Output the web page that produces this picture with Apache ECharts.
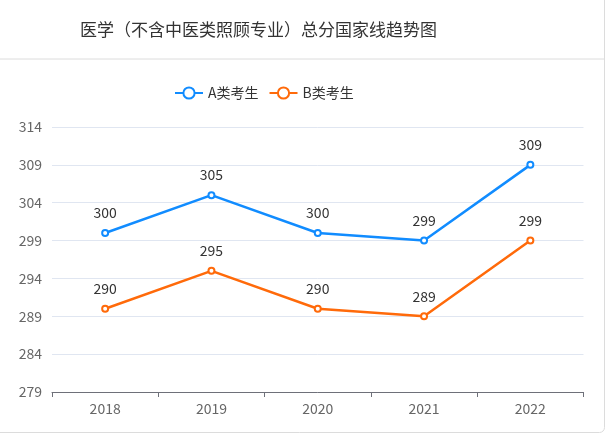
<!DOCTYPE html>
<html><head><meta charset="utf-8">
<script src="https://cdn.jsdelivr.net/npm/echarts@6/dist/echarts.min.js"></script>
<style>html,body{margin:0;padding:0;background:#fff;}#c{width:609px;height:435px;}</style>
</head><body><div id="c"></div>
<script>
const years = ['2018','2019','2020','2021','2022'];
const seriesA = [300, 305, 300, 299, 309];
const seriesB = [290, 295, 290, 289, 299];
const yTicks = [279, 284, 289, 294, 299, 304, 309, 314];
const chart = echarts.init(document.getElementById('c'));
const font = '"Noto Sans CJK SC", "Noto Sans", sans-serif';
chart.setOption({
  animation: false,
  backgroundColor: '#fff',
  textStyle: {fontFamily: font},
  title: {text: '医学（不含中医类照顾专业）总分国家线趋势图', left: 75, top: 16,
    textStyle: {fontSize: 17, fontWeight: 'normal', color: '#333', fontFamily: font}},
  graphic: [
    {type: 'line', shape: {x1: 0, y1: 59, x2: 604, y2: 59}, style: {stroke: '#dcdcdc', lineWidth: 1}},
    {type: 'rect', shape: {x: -6, y: -6, width: 610.5, height: 438.5, r: 5}, style: {fill: 'none', stroke: '#dcdcdc', lineWidth: 1}}
  ],
  legend: {top: 81, left: 169, itemWidth: 28, itemHeight: 14, itemGap: 10,
    textStyle: {fontSize: 14, color: '#333', fontFamily: font}},
  grid: {left: 52, right: 25.5, top: 127, bottom: 43, containLabel: false},
  xAxis: {type: 'category', data: years, boundaryGap: true,
    axisLine: {lineStyle: {color: '#6E7079'}},
    axisTick: {show: true, length: 5, lineStyle: {color: '#6E7079'}},
    axisLabel: {fontSize: 14, color: '#666', margin: 10, fontFamily: font}},
  yAxis: {type: 'value', min: yTicks[0], max: yTicks[yTicks.length-1], interval: 5,
    axisLine: {show: false}, axisTick: {show: false},
    splitLine: {lineStyle: {color: '#E0E6F1'}},
    axisLabel: {fontSize: 14, color: '#666', margin: 10, fontFamily: font}},
  series: [
    {name: 'A类考生', type: 'line', data: seriesA, symbol: 'emptyCircle', symbolSize: 6,
     color: '#118cff', lineStyle: {width: 2.5},
     label: {show: true, position: 'top', distance: 9, fontSize: 14, color: '#333', fontFamily: font}},
    {name: 'B类考生', type: 'line', data: seriesB, symbol: 'emptyCircle', symbolSize: 6,
     color: '#ff6a0a', lineStyle: {width: 2.5},
     label: {show: true, position: 'top', distance: 9, fontSize: 14, color: '#333', fontFamily: font}}
  ]
});
</script></body></html>
